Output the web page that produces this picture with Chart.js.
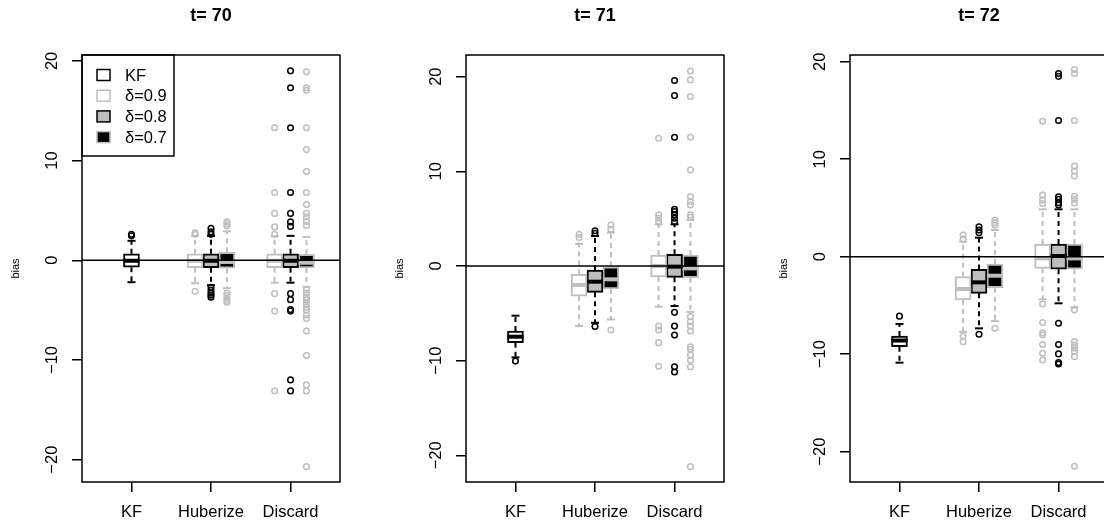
<!DOCTYPE html>
<html>
<head>
<meta charset="utf-8">
<script src="https://cdn.jsdelivr.net/npm/chart.js@4.4.1/dist/chart.umd.min.js"></script>
<style>
  html, body { margin: 0; padding: 0; background: #ffffff; overflow: hidden; width: 1104px; height: 525px; }
  canvas.panel { position: absolute; top: 0; }
</style>
</head>
<body>
<canvas id="p0" class="panel" width="384" height="525" style="left:0px"></canvas>
<canvas id="p1" class="panel" width="384" height="525" style="left:384px"></canvas>
<canvas id="p2" class="panel" width="384" height="525" style="left:768px"></canvas>
<script>
// ---- data ----
const categories = ['KF', 'Huberize', 'Discard'];
const seriesLabels = ['KF', 'δ=0.9', 'δ=0.8', 'δ=0.7'];
const yTickValues = [-20, -10, 0, 10, 20];
const panelTitles = ['t= 70', 't= 71', 't= 72'];

// box order: KF, Huberize (δ=0.9, 0.8, 0.7), Discard (δ=0.9, 0.8, 0.7)
const boxCategory = [0, 1, 1, 1, 2, 2, 2];
const boxSeries   = [0, 1, 2, 3, 1, 2, 3];

// [lower whisker, Q1, median, Q3, upper whisker]
const stats70 = [
  [-2.2, -0.7, -0.05, 0.65, 1.95],
  [-2.3, -0.75, -0.05, 0.65, 2.45],
  [-2.5, -0.75, -0.05, 0.65, 2.45],
  [-2.8, -0.8, -0.17, 0.8, 2.9],
  [-2.25, -0.75, -0.05, 0.65, 2.4],
  [-2.25, -0.75, -0.05, 0.65, 2.45],
  [-2.65, -0.77, -0.25, 0.6, 2.35]
];
const outliers70 = [
  [2.45, 2.6],
  [2.6, 2.75, -3.1],
  [2.6, 2.85, 3.2, -2.7, -3.0, -3.3, -3.5, -3.7],
  [3.45, 3.65, 3.85, -3.3, -3.55, -3.8, -4.0, -4.2],
  [2.6, 3.35, 4.7, 6.8, 13.3, -3.35, -5.1, -13.1],
  [3.4, 3.85, 4.7, 6.8, 13.3, 17.3, 19.0, -3.35, -3.95, -4.95, -5.1, -12.0, -13.1],
  [3.5, 3.9, 4.35, 4.7, 5.6, 6.8, 8.9, 11.1, 13.3, 17.05, 17.3, 18.9,
   -2.95, -3.3, -3.7, -4.0, -4.35, -4.7, -5.0, -5.5, -5.85, -7.1, -9.55, -12.5, -13.1, -20.7]
];

const stats71 = [
  [-9.65, -8.1, -7.47, -6.87, -5.25],
  [-6.35, -3.2, -2.0, -0.88, 2.35],
  [-6.0, -2.78, -1.66, -0.42, 3.17],
  [-5.65, -2.43, -1.41, 0.0, 3.52],
  [-4.3, -1.15, 0.0, 1.16, 4.4],
  [-4.23, -1.2, -0.07, 1.24, 4.4],
  [-4.85, -1.23, -0.25, 1.16, 4.86]
];
const outliers71 = [
  [-10.05],
  [3.0, 3.35],
  [3.45, 3.73, -6.4],
  [3.88, 4.33, -6.77],
  [4.7, 5.05, 5.4, 13.5, -6.35, -6.77, -8.1, -10.6],
  [4.68, 5.04, 5.4, 5.74, 5.99, 13.6, 18.0, 19.6, -4.9, -6.35, -7.3, -10.65, -11.2],
  [5.15, 5.4, 6.45, 6.8, 7.33, 10.15, 13.6, 17.9, 19.66, 20.6,
   -5.35, -5.9, -6.35, -6.87, -8.55, -8.8, -9.4, -9.95, -10.65, -21.2]
];

const stats72 = [
  [-10.87, -9.23, -8.6, -8.13, -6.9],
  [-7.7, -4.44, -3.31, -2.05, 1.54],
  [-7.35, -3.76, -2.63, -1.3, 1.95],
  [-6.6, -3.18, -1.95, -0.75, 2.74],
  [-4.37, -1.19, -0.17, 1.3, 4.86],
  [-4.78, -1.29, 0.07, 1.3, 4.86],
  [-5.19, -1.29, -0.17, 1.3, 4.86]
];
const outliers72 = [
  [-6.1],
  [1.8, 2.22, -8.13, -8.72],
  [2.46, 2.74, 3.07, -7.96],
  [3.25, 3.5, 3.76, -7.35],
  [5.47, 5.81, 6.32, 13.9, -4.85, -6.76, -7.8, -8.0, -9.0, -9.9, -10.6],
  [5.3, 5.54, 5.88, 6.15, 13.97, 18.5, 18.8, -6.83, -9.0, -9.97, -10.86, -11.0],
  [5.5, 5.9, 6.2, 8.27, 8.78, 9.29, 13.97, 18.8, 19.2,
   -5.46, -8.71, -9.05, -9.39, -9.74, -10.25, -21.5]
];

const panelStats = [stats70, stats71, stats72];
const panelOutliers = [outliers70, outliers71, outliers72];
const panelYRange = [[-22.24, 20.59], [-22.82, 22.29], [-23.11, 20.69]];

// ---- styling ----
const GREY = '#bebebe';
const boxFill   = ['#ffffff', '#ffffff', GREY, '#000000'];
const boxLine   = ['#000000', GREY, '#000000', GREY];
const medianCol = ['#000000', GREY, '#000000', GREY];
const X_MIN = 0.378, X_MAX = 3.622;
const GROUP_OFFSET = 0.2;

Chart.defaults.font.family = "'Liberation Sans', Arial, Helvetica, sans-serif";
Chart.defaults.color = '#000000';

const minus = v => (v < 0 ? '\u2212' + Math.abs(v) : String(v));

// full frame round the plotting region
const framePlugin = {
  id: 'plotFrame',
  afterDraw(chart) {
    const { ctx, chartArea: a } = chart;
    ctx.save();
    ctx.strokeStyle = '#000';
    ctx.lineWidth = 1.5;
    ctx.strokeRect(a.left, a.top, a.right - a.left, a.bottom - a.top);
    ctx.restore();
  }
};

// boxed key in the top-left corner
const keyPlugin = {
  id: 'boxKey',
  afterDraw(chart) {
    const { ctx, chartArea: a } = chart;
    const L = a.left, T = a.top;
    ctx.save();
    ctx.lineWidth = 1.5;
    ctx.strokeStyle = '#000';
    ctx.strokeRect(L, T, 92, 101);
    ctx.font = "16.5px 'Liberation Sans', Arial, sans-serif";
    ctx.textBaseline = 'middle';
    seriesLabels.forEach((lab, k) => {
      const cy = T + 20 + k * 20.7;
      ctx.fillStyle = boxFill[k];
      ctx.fillRect(L + 15, cy - 5.5, 13, 11);
      ctx.strokeStyle = boxLine[k];
      ctx.strokeRect(L + 15, cy - 5.5, 13, 11);
      ctx.fillStyle = '#000';
      ctx.fillText(lab, L + 43, cy + 1);
    });
    ctx.restore();
  }
};

function boxX(i) {
  const s = boxSeries[i];
  return boxCategory[i] + 1 + (s === 0 ? 0 : (s - 2) * GROUP_OFFSET);
}

function buildDatasets(stats, outs) {
  const datasets = [];
  for (let s = 0; s < seriesLabels.length; s++) {
    const idx = boxSeries.map((v, i) => (v === s ? i : -1)).filter(i => i >= 0);
    // boxes
    datasets.push({
      type: 'bar',
      data: idx.map(i => ({ x: boxX(i), y: [stats[i][1], stats[i][3]] })),
      backgroundColor: boxFill[s], borderColor: boxLine[s], borderWidth: 2,
      borderSkipped: false, barThickness: 16, grouped: false, order: 3
    });
    // medians
    datasets.push({
      type: 'scatter',
      data: idx.map(i => ({ x: boxX(i), y: stats[i][2] })),
      pointStyle: 'line', pointRadius: 8, pointBorderWidth: 4,
      pointBorderColor: medianCol[s], borderColor: medianCol[s], order: 2
    });
    // whiskers
    const wh = [];
    idx.forEach(i => {
      const x = boxX(i);
      wh.push({ x, y: stats[i][3] }, { x, y: stats[i][4] }, { x, y: null },
              { x, y: stats[i][1] }, { x, y: stats[i][0] }, { x, y: null });
    });
    datasets.push({
      type: 'line', data: wh, borderColor: boxLine[s], borderWidth: 2,
      borderDash: [5, 4], pointRadius: 0, spanGaps: false, fill: false, order: 5
    });
    // staples
    datasets.push({
      type: 'scatter',
      data: idx.flatMap(i => [{ x: boxX(i), y: stats[i][0] }, { x: boxX(i), y: stats[i][4] }]),
      pointStyle: 'line', pointRadius: 4, pointBorderWidth: 2,
      pointBorderColor: boxLine[s], borderColor: boxLine[s], order: 4
    });
    // outlying values
    datasets.push({
      type: 'scatter',
      data: idx.flatMap(i => outs[i].map(v => ({ x: boxX(i), y: v }))),
      pointStyle: 'circle', pointRadius: 2.8, pointBorderWidth: 1.5,
      pointBorderColor: boxLine[s], pointBackgroundColor: 'rgba(0,0,0,0)',
      borderColor: boxLine[s], order: 1
    });
  }
  // reference line at zero
  datasets.push({
    type: 'line', data: [{ x: X_MIN, y: 0 }, { x: X_MAX, y: 0 }],
    borderColor: '#000', borderWidth: 1.5, pointRadius: 0, fill: false, order: 0
  });
  return datasets;
}

function makePanel(p) {
  const [yMin, yMax] = panelYRange[p];
  const plugins = [framePlugin];
  if (p === 0) plugins.push(keyPlugin);
  new Chart(document.getElementById('p' + p), {
    type: 'bar',
    data: { datasets: buildDatasets(panelStats[p], panelOutliers[p]) },
    plugins,
    options: {
      responsive: false,
      animation: false,
      events: [],
      layout: { padding: { left: 0, right: 44, top: 0, bottom: 0 } },
      plugins: {
        legend: { display: false },
        tooltip: { enabled: false },
        title: {
          display: true, text: panelTitles[p], fullSize: false,
          font: { size: 18, weight: 'bold' }, color: '#000',
          padding: { top: 5, bottom: 28.4 }
        }
      },
      scales: {
        x: {
          type: 'linear', min: X_MIN, max: X_MAX, offset: false,
          afterBuildTicks: s => { s.ticks = categories.map((c, i) => ({ value: i + 1 })); },
          afterFit: s => { s.height = 43; },
          ticks: {
            callback: v => categories[v - 1], autoSkip: false,
            maxRotation: 0, minRotation: 0, padding: 11,
            font: { size: 16.5 }, color: '#000'
          },
          grid: { drawOnChartArea: false, drawTicks: true, tickLength: 10, color: '#000', lineWidth: 1.5, offset: false },
          border: { display: false }
        },
        y: {
          type: 'linear', min: yMin, max: yMax,
          afterBuildTicks: s => { s.ticks = yTickValues.map(v => ({ value: v })); },
          afterFit: s => { s.width = 82; },
          ticks: {
            callback: v => minus(v), minRotation: 90, maxRotation: 90,
            crossAlign: 'center', padding: 5.5, font: { size: 16.5 }, color: '#000'
          },
          grid: { drawOnChartArea: false, drawTicks: true, tickLength: 10, color: '#000', lineWidth: 1.5 },
          border: { display: false },
          title: { display: true, text: 'bias', font: { size: 11 }, color: '#000', padding: { top: 9.4, bottom: 0 } }
        }
      }
    }
  });
}

[0, 1, 2].forEach(makePanel);
</script>
</body>
</html>
